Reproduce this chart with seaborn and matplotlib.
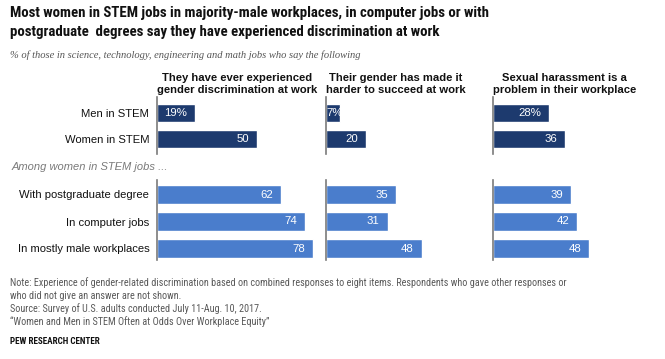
import matplotlib
matplotlib.use("Agg")
import matplotlib.pyplot as plt
import seaborn as sns
import pandas as pd

groups_upper = ["Men in STEM", "Women in STEM"]
groups_lower = ["With postgraduate degree", "In computer jobs", "In mostly male workplaces"]
panel_titles = ["They have ever experienced\ngender discrimination at work",
                "Their gender has made it\nharder to succeed at work",
                "Sexual harassment is a\nproblem in their workplace"]
discrimination = [19, 50, 62, 74, 78]
harder = [7, 20, 35, 31, 48]
harassment = [28, 36, 39, 42, 48]
series = [discrimination, harder, harassment]

title1 = "Most women in STEM jobs in majority-male workplaces, in computer jobs or with"
title2 = "postgraduate  degrees say they have experienced discrimination at work"
subtitle = "% of those in science, technology, engineering and math jobs who say the following"
among = "Among women in STEM jobs ..."
notes = ["Note: Experience of gender-related discrimination based on combined responses to eight items. Respondents who gave other responses or",
         "who did not give an answer are not shown.",
         "Source: Survey of U.S. adults conducted July 11-Aug. 10, 2017.",
         "\u201cWomen and Men in STEM Often at Odds Over Workplace Equity\u201d"]
credit = "PEW RESEARCH CENTER"

DARK = "#1d3a6e"
LIGHT = "#4a7dcc"

sns.set_theme(style="white")
plt.rcParams["font.family"] = ["Liberation Sans", "DejaVu Sans"]

W, H = 665, 359
fig = plt.figure(figsize=(W / 100, H / 100), dpi=100)
fig.patch.set_facecolor("white")

def fax(left, top, width, height):
    return fig.add_axes([left / W, 1 - (top + height) / H, width / W, height / H])

lefts = [157, 325.7, 493.3]
TITLEF = ["Roboto Condensed", "Liberation Sans", "DejaVu Sans"]
BODY = ["Liberation Sans", "DejaVu Sans"]
NOTEF = ["Roboto Condensed", "Liberation Sans", "DejaVu Sans"]
VALF = ["Liberation Sans", "DejaVu Sans"]

for i, vals in enumerate(series):
    for part in range(2):
        if part == 0:
            cats, v = groups_upper, vals[:2]
            top, h = 97, 57
            ylim = (1 + 15 / 26, -16 / 26)
            color = DARK
            wid = 0.69
        else:
            cats, v = groups_lower, vals[2:]
            top, h = 180, 80
            ylim = (2 + 11.5 / 27, -14.5 / 27)
            color = LIGHT
            wid = 0.70
        ax = fax(lefts[i], top, 160, h)
        df = pd.DataFrame({"group": cats, "value": v})
        sns.barplot(data=df, x="value", y="group", order=cats, color=color,
                    width=wid, ax=ax, saturation=1)
        ax.set_xlim(0, 80)
        ax.set_ylim(*ylim)
        ax.set_xlabel("")
        ax.set_ylabel("")
        ax.set_xticks([])
        for s in ["top", "right", "bottom"]:
            ax.spines[s].set_visible(False)
        ax.spines["left"].set_color("#7a7a7a")
        ax.spines["left"].set_linewidth(1.2)
        ax.tick_params(axis="y", length=0, pad=5.5)
        if i == 0:
            ax.set_yticks(range(len(cats)))
            ax.set_yticklabels(cats, fontsize=8.1, color="#111111", family=BODY)
        else:
            ax.set_yticks([])
        for j, val in enumerate(v):
            lab = f"{val}%" if (part == 0 and j == 0) else f"{val}"
            if val < 10:
                ax.text(0.3, j, lab, ha="left", va="center", color="white",
                        fontsize=8.2, family=VALF)
            else:
                ax.text(val - 4, j, lab, ha="right", va="center", color="white",
                        fontsize=8.2, family=VALF)
        if part == 0:
            ax.text(0, 1 + 2 / h, panel_titles[i], transform=ax.transAxes,
                    ha="left", va="bottom", multialignment="center",
                    fontsize=8.1, fontweight="bold", color="#111111",
                    family=BODY, linespacing=1.2)

def ftext(x, y, s, **kw):
    fig.text(x / W, 1 - y / H, s, **kw)

ftext(10, 17, title1, fontsize=10.7, fontweight="bold", color="#111111",
      va="baseline", family=TITLEF)
ftext(10, 36, title2, fontsize=10.7, fontweight="bold", color="#111111",
      va="baseline", family=TITLEF)
ftext(10, 58, subtitle, fontsize=7.6, style="italic", color="#555555",
      va="baseline", family=["Liberation Serif", "DejaVu Serif"])
ftext(12, 170, among, fontsize=8.0, style="italic", color="#7a7a7a",
      va="baseline", family=VALF)
for k, (line, yb) in enumerate(zip(notes, [285.7, 299.3, 311.5, 325])):
    ftext(10, yb, line, fontsize=7.3, color="#595959", va="baseline", family=NOTEF)
ftext(10, 344, credit, fontsize=6.6, fontweight="bold", color="#111111",
      va="baseline", family=TITLEF)

fig.savefig("out.png", dpi=100, facecolor="white")
